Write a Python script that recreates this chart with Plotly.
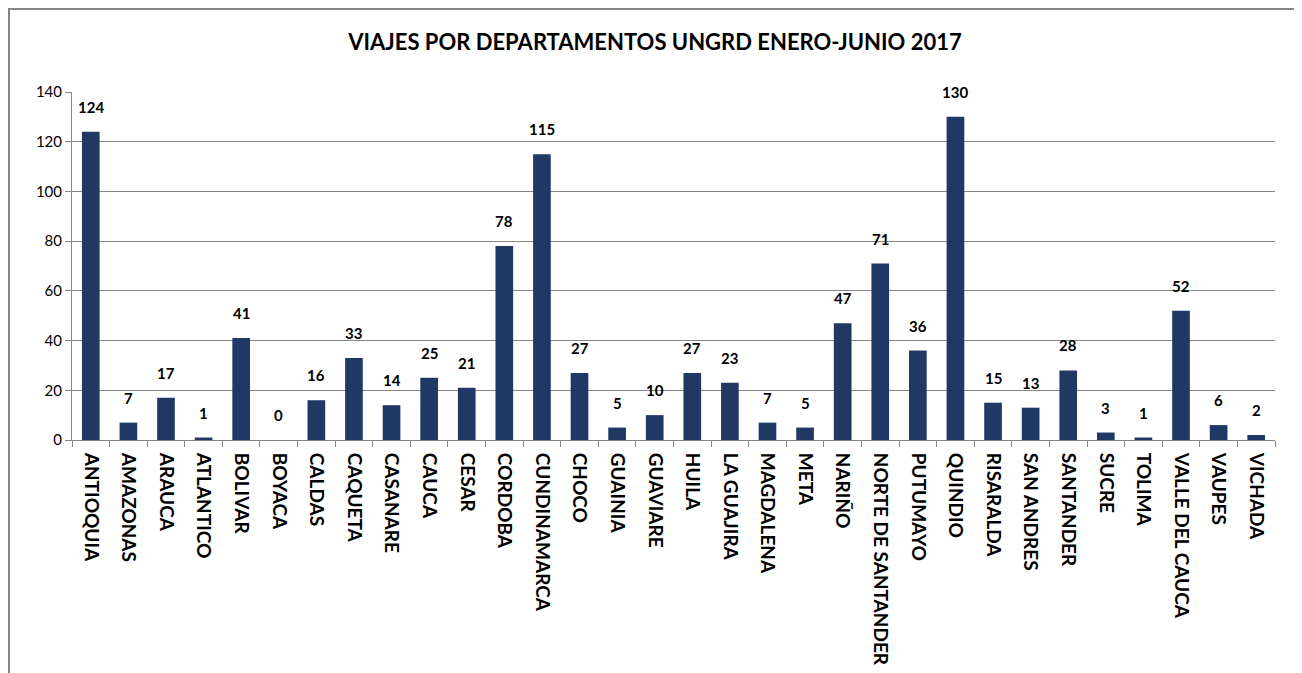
import plotly.graph_objects as go

# Viajes por departamento (enero-junio 2017)
departamentos = [
    "ANTIOQUIA", "AMAZONAS", "ARAUCA", "ATLANTICO", "BOLIVAR", "BOYACA",
    "CALDAS", "CAQUETA", "CASANARE", "CAUCA", "CESAR", "CORDOBA",
    "CUNDINAMARCA", "CHOCO", "GUAINIA", "GUAVIARE", "HUILA", "LA GUAJIRA",
    "MAGDALENA", "META", "NARIÑO", "NORTE DE SANTANDER", "PUTUMAYO",
    "QUINDIO", "RISARALDA", "SAN ANDRES", "SANTANDER", "SUCRE", "TOLIMA",
    "VALLE DEL CAUCA", "VAUPES", "VICHADA",
]
viajes = [124, 7, 17, 1, 41, 0, 16, 33, 14, 25, 21, 78, 115, 27, 5, 10, 27,
          23, 7, 5, 47, 71, 36, 130, 15, 13, 28, 3, 1, 52, 6, 2]

# la página tiene 8px de margen en el body
W, H = 1294, 665
ml, mr, mt, mb = 64, 27, 84, 233
pw, ph = W - ml - mr, H - mt - mb

fig = go.Figure(go.Bar(
    x=departamentos,
    y=viajes,
    marker=dict(color="#203864", line=dict(width=0)),
))

# etiquetas de datos
for d, v in zip(departamentos, viajes):
    fig.add_annotation(
        x=d, y=v, text=f"<b>{v}</b>", showarrow=False,
        yanchor="bottom", yshift=14,
        font=dict(family="Lato", size=15, color="black"),
    )

fig.update_layout(
    width=W, height=H,
    margin=dict(l=ml, r=mr, t=mt, b=mb),
    paper_bgcolor="white",
    plot_bgcolor="white",
    bargap=0.53,
    showlegend=False,
    font=dict(family="Lato", color="black"),
    title=dict(
        text="<b>VIAJES POR DEPARTAMENTOS UNGRD ENERO-JUNIO 2017</b>",
        x=0.5, xanchor="center", y=1 - 34 / H, yanchor="middle",
        font=dict(size=22, family="Lato", color="black"),
    ),
)

fig.update_xaxes(
    tickangle=90,
    tickfont=dict(size=19, family="Lato", weight="bold", color="black"),
    showline=True, linecolor="#868686", linewidth=1,
    ticks="outside", tickson="boundaries", ticklen=6, tickcolor="#868686",
    ticklabelstandoff=8,
    showgrid=False, automargin=False,
)
fig.update_yaxes(
    range=[0, 140], dtick=20,
    tickfont=dict(size=15, family="Lato", color="black"),
    showgrid=True, gridcolor="#868686", gridwidth=1,
    showline=True, linecolor="#868686", linewidth=1,
    ticks="outside", ticklen=6, tickcolor="#868686",
    zeroline=False, automargin=False,
)

# marco del gráfico (solo bordes izquierdo y superior visibles)
fig.add_shape(
    type="rect", xref="paper", yref="paper",
    x0=(1 - ml) / pw, x1=(W + 40 - ml) / pw,
    y0=-(H + 20 - mt - ph) / ph, y1=1 + (mt - 1) / ph,
    line=dict(color="#868686", width=2), fillcolor="rgba(0,0,0,0)",
    layer="below",
)

fig.write_html("out.html")
